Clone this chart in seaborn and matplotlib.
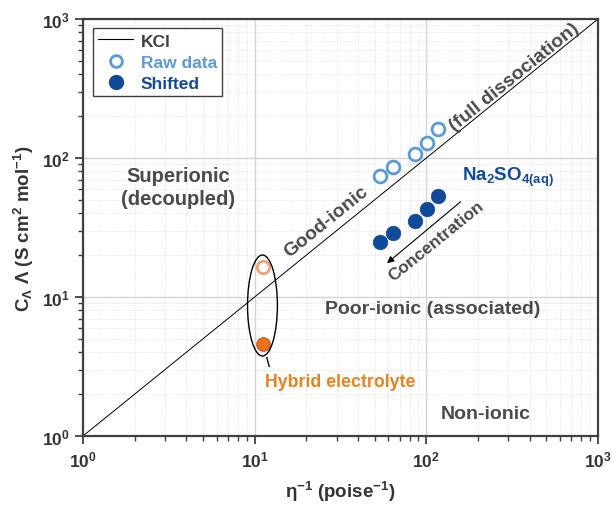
import numpy as np
import pandas as pd
import matplotlib
matplotlib.use("Agg")
import matplotlib.pyplot as plt
import seaborn as sns
from matplotlib.lines import Line2D
from matplotlib.patches import Ellipse

# ---- data ----
raw_x = [53.7, 63.9, 85.8, 100.7, 116.9]
raw_y = [74.2, 86.1, 106.9, 128.2, 161.7]
shift_x = [53.7, 63.9, 85.8, 100.7, 116.9]
shift_y = [24.9, 28.9, 35.2, 43.0, 53.3]
hyb_x = [11.2, 11.2]
hyb_y = [16.4, 4.59]
kcl_x = [1, 1000]
kcl_y = [1, 1000]

sns.set_style("white")
plt.rcParams['font.family'] = ['Liberation Sans', 'DejaVu Sans']
plt.rcParams['font.weight'] = 'bold'
plt.rcParams['mathtext.fontset'] = 'custom'
plt.rcParams['mathtext.rm'] = 'Liberation Sans:bold'
plt.rcParams['mathtext.bf'] = 'Liberation Sans:bold'
plt.rcParams['mathtext.it'] = 'Liberation Sans:bold:italic'

TXT = '#4a4a4a'
RAW = '#5b9bd5'
SHIFT = '#124a9a'
ORANGE = '#e8821e'

fig = plt.figure(figsize=(6.12, 5.06), dpi=100)
ax = fig.add_axes([0.1356, 0.1364, 0.9771 - 0.1356, 0.9605 - 0.1364])
ax.set_xscale('log')
ax.set_yscale('log')
ax.set_xlim(1, 1000)
ax.set_ylim(1, 1000)

ax.grid(True, which='major', color='#d4d4d4', lw=1.0, ls='-', zorder=0)
ax.grid(True, which='minor', color='#dadada', lw=0.6, ls=':', zorder=0)
ax.set_axisbelow(True)

sns.lineplot(x=kcl_x, y=kcl_y, ax=ax, color='black', lw=0.7, zorder=2)

df_raw = pd.DataFrame({'x': raw_x, 'y': raw_y})
df_sh = pd.DataFrame({'x': shift_x, 'y': shift_y})
sns.scatterplot(data=df_raw, x='x', y='y', ax=ax, s=85, facecolor='white',
                edgecolor=RAW, linewidth=2.0, zorder=3)
sns.scatterplot(data=df_sh, x='x', y='y', ax=ax, s=110, color=SHIFT,
                edgecolor=SHIFT, linewidth=0.5, zorder=3)
sns.scatterplot(x=hyb_x[:1], y=hyb_y[:1], ax=ax, s=80, facecolor='white',
                edgecolor='#f2a373', linewidth=2.0, zorder=3)
sns.scatterplot(x=hyb_x[1:], y=hyb_y[1:], ax=ax, s=95, color='#e8701e',
                edgecolor='#c85a10', linewidth=0.8, zorder=3)

# ellipse around hybrid points
ell = Ellipse((0.3485, 0.3129), 0.058, 0.2422, transform=ax.transAxes,
              fill=False, edgecolor='black', lw=1.0, zorder=4)
ax.add_patch(ell)
ax.annotate('', xy=(0.3555, 0.195), xytext=(0.363, 0.160),
            xycoords='axes fraction', textcoords='axes fraction',
            arrowprops=dict(arrowstyle='-', color='black', lw=1.0))

# text annotations
fs = 14
ax.text(3.57, 61.8, 'Superionic\n(decoupled)', ha='center', va='center',
        fontsize=14.5, color=TXT, fontweight='bold', linespacing=1.3)
ax.text(26.0, 35.2, 'Good-ionic', ha='center', va='center', rotation=39,
        fontsize=fs, color=TXT, fontweight='bold')
ax.text(328, 383, '(full dissociation)', ha='center', va='center', rotation=39,
        fontsize=fs, color=TXT, fontweight='bold')
ax.text(299, 74.2, r'Na$\mathdefault{_2}$SO$\mathdefault{_{4(aq)}}$', ha='center',
        va='center', fontsize=13.5, color=SHIFT, fontweight='bold')
ax.text(113.7, 25.3, 'Concentration', ha='center', va='center', rotation=39,
        fontsize=12.5, color=TXT, fontweight='bold')
ax.annotate('', xy=(57.4, 17.0), xytext=(163, 49.9),
            arrowprops=dict(arrowstyle='-|>', color='black', lw=0.8,
                            mutation_scale=10))
ax.text(109, 8.33, 'Poor-ionic (associated)', ha='center', va='center',
        fontsize=fs, color=TXT, fontweight='bold')
ax.text(222, 1.46, 'Non-ionic', ha='center', va='center',
        fontsize=fs, color=TXT, fontweight='bold')
ax.text(11.5, 2.45, 'Hybrid electrolyte', ha='left', va='center',
        fontsize=12.8, color=ORANGE, fontweight='bold')

# axes styling
for sp in ax.spines.values():
    sp.set_color('#404040')
    sp.set_linewidth(1.6)
ax.tick_params(which='major', direction='out', length=6, width=1.3,
               color='#404040', labelsize=12.5, labelcolor='#333333',
               bottom=True, left=True, top=False, right=False)
ax.tick_params(which='minor', direction='out', length=3.5, width=1.0,
               color='#404040', bottom=True, left=True, top=False, right=False)
for lab in ax.get_xticklabels() + ax.get_yticklabels():
    lab.set_fontweight('bold')

ax.set_xlabel(r'η$\mathdefault{^{-1}}$ (poise$\mathdefault{^{-1}}$)',
              fontsize=13.5, fontweight='bold', color='#333333', labelpad=7)
ax.set_ylabel(r'C$\mathdefault{_Λ}$ Λ (S cm$\mathdefault{^2}$ mol$\mathdefault{^{-1}}$)',
              fontsize=13.5, fontweight='bold', color='#333333', labelpad=4)

handles = [
    Line2D([], [], color='black', lw=0.8),
    Line2D([], [], ls='', marker='o', markersize=8.5, markerfacecolor='white',
           markeredgecolor=RAW, markeredgewidth=2.0),
    Line2D([], [], ls='', marker='o', markersize=10, markerfacecolor=SHIFT,
           markeredgecolor=SHIFT),
]
leg = ax.legend(handles, ['KCl', 'Raw data', 'Shifted'], loc='upper left',
                bbox_to_anchor=(0.0194, 0.978), borderaxespad=0,
                fontsize=12.5, frameon=True,
                fancybox=False, edgecolor='#404040', framealpha=1,
                handlelength=2.0, handletextpad=0.45, borderpad=0.3,
                labelspacing=0.35)
leg.get_frame().set_linewidth(1.0)
for t, c in zip(leg.get_texts(), ['#404040', RAW, SHIFT]):
    t.set_color(c)
    t.set_fontweight('bold')

fig.savefig('out.png', dpi=100)
